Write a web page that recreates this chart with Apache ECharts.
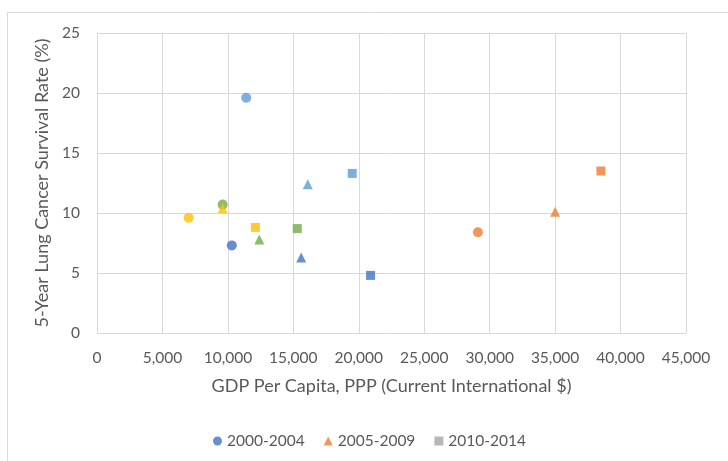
<!DOCTYPE html>
<html>
<head>
<meta charset="utf-8">
<script src="https://cdn.jsdelivr.net/npm/echarts@6/dist/echarts.min.js"></script>
<style>
html,body{margin:0;padding:0;background:#fff;}
#c{width:728px;height:461px;}
</style>
</head>
<body>
<div id="c"></div>
<script>
// Point colours (one per country)
const pointColors = ['#4472C4', '#ED7D31', '#FFC000', '#5B9BD5', '#70AD47'];
// Series names
const seriesNames = ['2000-2004', '2005-2009', '2010-2014'];
const legendColors = ['#4472C4', '#ED7D31', '#A5A5A5'];
// 2000-2004 (circles)
const circleX = [10300, 29100, 7000, 11400, 9600];
const circleY = [7.3, 8.4, 9.6, 19.6, 10.7];
// 2005-2009 (triangles)
const triX = [15600, 35000, 9600, 16100, 12400];
const triY = [6.3, 10.1, 10.4, 12.4, 7.8];
// 2010-2014 (squares)
const sqX = [20900, 38500, 12100, 19500, 15300];
const sqY = [4.8, 13.5, 8.8, 13.3, 8.7];
// Axis ticks
const xTicks = [0, 5000, 10000, 15000, 20000, 25000, 30000, 35000, 40000, 45000];
const yTicks = [0, 5, 10, 15, 20, 25];

const font = 'Lato, "Open Sans", sans-serif';
const textColor = '#595959';

function pts(xs, ys) {
  return xs.map((x, i) => ({ value: [x, ys[i]], itemStyle: { color: pointColors[i] } }));
}

const chart = echarts.init(document.getElementById('c'), null, { renderer: 'canvas' });
chart.setOption({
  animation: false,
  backgroundColor: '#fff',
  graphic: [{
    type: 'rect', left: 5, top: 10, silent: true,
    shape: { x: 0.5, y: 0.5, width: 760, height: 480 },
    style: { fill: 'none', stroke: '#d9d9d9', lineWidth: 1 }
  }],
  grid: { left: 97, top: 33, right: 42, bottom: 128, containLabel: false },
  xAxis: {
    type: 'value', min: xTicks[0], max: xTicks[xTicks.length - 1], interval: 5000,
    name: 'GDP Per Capita, PPP (Current International $)',
    nameLocation: 'middle', nameGap: 44,
    nameTextStyle: { fontFamily: font, fontSize: 18, color: textColor },
    axisLine: { show: true, lineStyle: { color: '#d9d9d9' } },
    axisTick: { show: false },
    axisLabel: {
      fontFamily: font, fontSize: 15.5, color: textColor, margin: 17,
      formatter: v => v.toLocaleString('en-US')
    },
    splitLine: { show: true, lineStyle: { color: '#d9d9d9', width: 1 } }
  },
  yAxis: {
    type: 'value', min: yTicks[0], max: yTicks[yTicks.length - 1], interval: 5,
    name: '5-Year Lung Cancer Survival Rate (%)',
    nameLocation: 'middle', nameGap: 44,
    nameTextStyle: { fontFamily: font, fontSize: 18, color: textColor },
    axisLine: { show: true, lineStyle: { color: '#d9d9d9' } },
    axisTick: { show: false },
    axisLabel: { fontFamily: font, fontSize: 15.5, color: textColor, margin: 17 },
    splitLine: { show: true, lineStyle: { color: '#d9d9d9', width: 1 } }
  },
  legend: {
    top: 433, left: 213, padding: 0,
    itemWidth: 9, itemHeight: 9, itemGap: 19,
    textStyle: { fontFamily: font, fontSize: 15.5, color: textColor },
    data: [
      { name: seriesNames[0], icon: 'circle', itemStyle: { color: legendColors[0] } },
      { name: seriesNames[1], icon: 'triangle', itemStyle: { color: legendColors[1] } },
      { name: seriesNames[2], icon: 'rect', itemStyle: { color: legendColors[2] } }
    ]
  },
  series: [
    { name: seriesNames[0], type: 'scatter', symbol: 'circle', symbolSize: 10, data: pts(circleX, circleY) },
    { name: seriesNames[1], type: 'scatter', symbol: 'triangle', symbolSize: 10, data: pts(triX, triY) },
    { name: seriesNames[2], type: 'scatter', symbol: 'rect', symbolSize: 9, data: pts(sqX, sqY) }
  ]
});
</script>
</body>
</html>
